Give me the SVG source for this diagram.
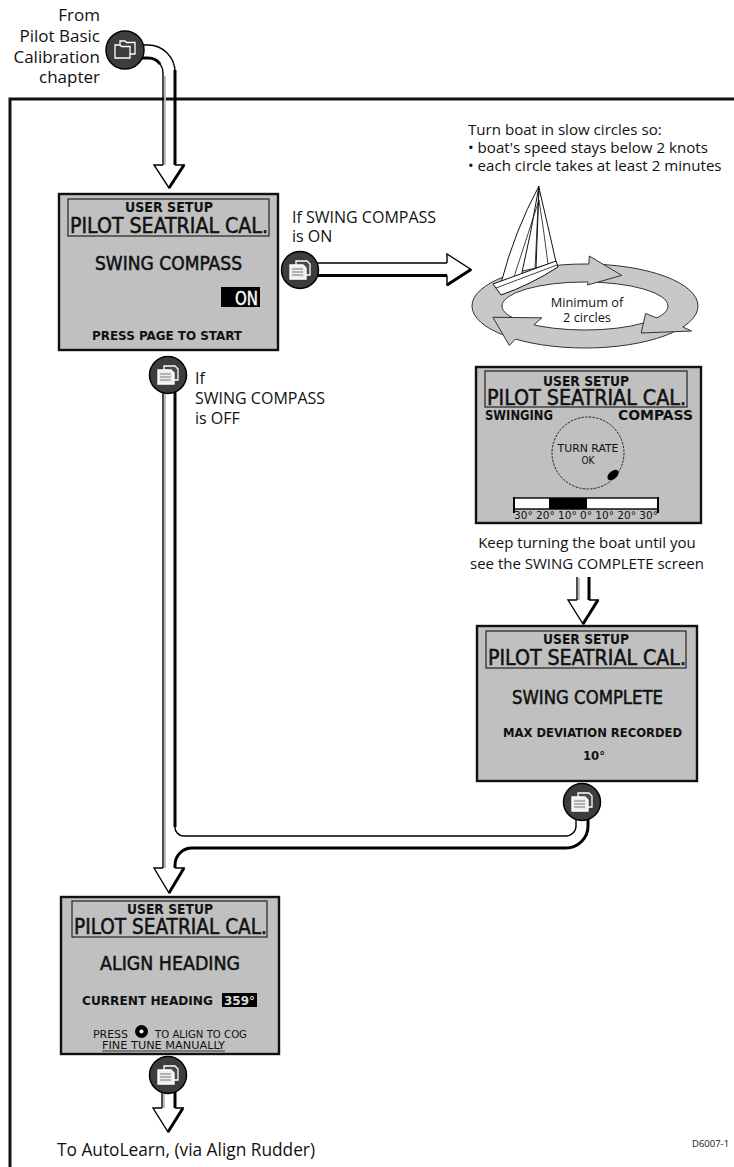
<svg xmlns="http://www.w3.org/2000/svg" width="734" height="1167" viewBox="0 0 734 1167">
  <defs>
    <style>
      .lbl{font-family:"Open Sans","Liberation Sans",sans-serif;fill:#111}
      .lcd{font-family:"DejaVu Sans Condensed","DejaVu Sans",sans-serif;fill:#111}
      .big{stroke:#111;stroke-width:0.5}
      .b{font-weight:bold}
      .scr{fill:#c0c0c0;stroke:#111;stroke-width:2.4}
      .hdr{fill:none;stroke:#222;stroke-width:1.2}
      .w{fill:none;stroke:#000;stroke-width:1.4}
      .wt{fill:none;stroke:#000;stroke-width:3}
      .shade{fill:none;stroke:#bdbdbd;stroke-width:2}
      .head{fill:#fff;stroke:#000;stroke-width:1.4;stroke-linejoin:miter}
      .btn{fill:#3d3d3d;stroke:#000;stroke-width:1.5}
      .ring{fill:#c8c8c8;stroke:#333;stroke-width:1}
      .sail{fill:#fff;stroke:#111;stroke-width:1}
    </style>
    <!-- round "page" key: two stacked pages -->
    <g id="pagekey">
      <circle class="btn" r="18.5"/>
      <path d="M-4,-9 H7 L10,-6 V5 H-4 Z" fill="#4a4a4a" stroke="#fff" stroke-width="1.3"/>
      <path d="M-10,-5 H3 L6,-2 V9 H-10 Z" fill="#eee" stroke="#fff" stroke-width="1.3"/>
      <path d="M-8,-1 H3 M-8,2 H3 M-8,5 H3" stroke="#777" stroke-width="1.2"/>
    </g>
    <!-- round key with two folder tabs -->
    <g id="folderkey">
      <circle class="btn" r="19"/>
      <path d="M-5,-9 H0 L1.5,-7.5 H10 V4 H-5 Z" fill="#3d3d3d" stroke="#fff" stroke-width="1.3"/>
      <path d="M-10,-5 H-5 L-3.5,-3.5 H5 V8 H-10 Z" fill="#3d3d3d" stroke="#fff" stroke-width="1.3"/>
    </g>
  </defs>

  <rect width="734" height="1167" fill="#fff"/>

  <!-- frame -->
  <path d="M734 99 H10 V1167" fill="none" stroke="#111" stroke-width="3"/>

  <!-- connectors -->
  <g id="connectors">
    <!-- entry from previous chapter -->
    <path class="shade" d="M165 76 V165"/>
    <path class="w" d="M141 45 H148 A27 27 0 0 1 175 72"/>
    <path class="wt" d="M175 70 V166"/>
    <path class="w" d="M141 58 H148 A15 15 0 0 1 163 73 V166"/>
    <path class="wt" d="M141 58 H148 Q156 58 160 64"/>
    <polyline class="head" points="163,165 154,165 169,188 184,165 175,165"/>
    <path class="wt" d="M184 165 L169 188"/>

    <!-- swing compass ON -->
    <path class="w" d="M316 263 H448"/>
    <path class="wt" d="M316 275.5 H448"/>
    <polyline class="head" points="447,263 447,254 471,269.5 447,285 447,275.5"/>
    <path class="wt" d="M471 269.5 L447 285"/>

    <!-- swinging to swing complete -->
    <path class="shade" d="M579 578 V600"/>
    <path class="w" d="M577 577 V601"/>
    <path class="wt" d="M589 577 V601"/>
    <polyline class="head" points="577,600 568,600 583,624 598,600 589,600"/>
    <path class="wt" d="M598 600 L583 624"/>

    <!-- swing compass OFF and return from swing complete -->
    <path class="shade" d="M165 392 V868"/>
    <path class="w" d="M163 391 V869"/>
    <path class="wt" d="M175 391 V827"/>
    <path class="w" d="M175 826 A9 9 0 0 0 184 836 H566 A10 10 0 0 0 576 826 V816"/>
    <path class="wt" d="M588 816 V826 A22 22 0 0 1 566 848 H192 A17 17 0 0 0 175 865 V869"/>
    <polyline class="head" points="163,868 154,868 169,893 184,868 175,868"/>
    <path class="wt" d="M184 868 L169 893"/>

    <!-- exit -->
    <path class="shade" d="M164 1092 V1108"/>
    <path class="w" d="M162 1090 V1109"/>
    <path class="wt" d="M175 1090 V1109"/>
    <polyline class="head" points="162,1108 153,1108 168,1132 183,1108 175,1108"/>
    <path class="wt" d="M183 1108 L168 1132"/>
  </g>

  <!-- entry label -->
  <g id="entry">
    <text class="lbl" x="100" y="21" text-anchor="end" font-size="17">From</text>
    <text class="lbl" x="100" y="42" text-anchor="end" font-size="17">Pilot Basic</text>
    <text class="lbl" x="100" y="63" text-anchor="end" font-size="17">Calibration</text>
    <text class="lbl" x="100" y="83" text-anchor="end" font-size="17">chapter</text>
    <use href="#folderkey" x="125" y="50"/>
  </g>

  <!-- screen: swing compass -->
  <g id="screen-swing-compass">
    <rect class="scr" x="59" y="194" width="219" height="156"/>
    <rect class="hdr" x="68" y="199" width="201" height="37"/>
    <text class="lcd b" x="169" y="212" font-size="13.5" text-anchor="middle" textLength="88" lengthAdjust="spacingAndGlyphs">USER SETUP</text>
    <text class="lcd big" x="70" y="233" font-size="21" textLength="198" lengthAdjust="spacingAndGlyphs">PILOT SEATRIAL CAL.</text>
    <text class="lcd big" x="95" y="270" font-size="19.5" textLength="147" lengthAdjust="spacingAndGlyphs">SWING COMPASS</text>
    <rect x="221" y="287" width="39" height="20" fill="#000"/>
    <text class="lcd" x="235" y="305" font-size="19.5" style="fill:#fff;stroke:#fff;stroke-width:0.4" textLength="23" lengthAdjust="spacingAndGlyphs">ON</text>
    <text class="lcd b" x="92" y="340" font-size="13" textLength="150" lengthAdjust="spacingAndGlyphs">PRESS PAGE TO START</text>
  </g>

  <!-- key: compass ON -->
  <g id="key-on">
    <text class="lbl" x="292" y="223" font-size="16">If SWING COMPASS</text>
    <text class="lbl" x="292" y="242" font-size="16">is ON</text>
    <use href="#pagekey" x="300" y="270"/>
  </g>

  <!-- key: compass OFF -->
  <g id="key-off">
    <use href="#pagekey" x="168" y="375"/>
    <text class="lbl" x="195" y="384" font-size="16">If</text>
    <text class="lbl" x="195" y="404" font-size="16">SWING COMPASS</text>
    <text class="lbl" x="195" y="424" font-size="16">is OFF</text>
  </g>

  <!-- instructions and turning boat -->
  <g id="turn-boat">
    <text class="lbl" x="468" y="135" font-size="15.1">Turn boat in slow circles so:</text>
    <text class="lbl" x="468" y="153" font-size="15.1">• boat's speed stays below 2 knots</text>
    <text class="lbl" x="468" y="171" font-size="15.1">• each circle takes at least 2 minutes</text>

    <path class="ring" fill-rule="evenodd" d="M472 306 A113 42 0 1 0 698 306 A113 42 0 1 0 472 306 Z M502 306 A83 24 0 1 0 668 306 A83 24 0 1 0 502 306 Z"/>
    <polyline class="ring" points="588.9,264 589.3,256 621.7,275.4 587.6,285 587.9,282"/>
    <polyline class="ring" points="682.9,327 691.5,331 641.2,333 645.6,313.5 656.9,318"/>
    <polyline class="ring" points="515.4,339.1 509.3,345.4 492.9,317.3 541.9,317.8 533.9,324.9"/>
    <text class="lbl" x="587" y="307" font-size="12.8" text-anchor="middle">Minimum of</text>
    <text class="lbl" x="587" y="322" font-size="12.8" text-anchor="middle">2 circles</text>

    <!-- yacht -->
    <path class="sail" d="M539 186 Q515 230 501 283 L521 277 Q531 234 539 186 Z"/>
    <path class="sail" d="M539 188 Q548 226 556 262 L536 268 Z"/>
    <path d="M539 186 L535 269 M539 200 Q526 240 513 280 M539 200 Q544 232 548 264" fill="none" stroke="#111" stroke-width="0.8"/>
    <path class="sail" d="M493 284 L556 261 L558 267 Q530 285 501 295 Z"/>
    <path d="M496 288 L557 265" stroke="#111" stroke-width="0.8"/>
  </g>

  <!-- screen: swinging compass -->
  <g id="screen-swinging">
    <rect class="scr" x="476" y="367" width="225" height="156"/>
    <rect class="hdr" x="485" y="371" width="202" height="36"/>
    <text class="lcd b" x="586" y="386" font-size="13.5" text-anchor="middle" textLength="86" lengthAdjust="spacingAndGlyphs">USER SETUP</text>
    <text class="lcd big" x="487" y="405" font-size="21" textLength="199" lengthAdjust="spacingAndGlyphs">PILOT SEATRIAL CAL.</text>
    <text class="lcd b" x="485" y="420" font-size="13.5" textLength="68" lengthAdjust="spacingAndGlyphs">SWINGING</text>
    <text class="lcd b" x="618" y="420" font-size="13.5" textLength="75" lengthAdjust="spacingAndGlyphs">COMPASS</text>
    <circle cx="588" cy="453" r="36" fill="none" stroke="#222" stroke-width="1" stroke-dasharray="2.5 1.2"/>
    <text class="lcd" x="588" y="452" font-size="10" text-anchor="middle" textLength="61" lengthAdjust="spacingAndGlyphs">TURN RATE</text>
    <text class="lcd" x="588" y="464" font-size="10" text-anchor="middle">OK</text>
    <ellipse cx="613" cy="475" rx="6.5" ry="4" transform="rotate(-40 613 475)" fill="#000"/>
    <rect x="514" y="498" width="144" height="11" fill="#fff" stroke="#000" stroke-width="1.4"/>
    <rect x="549" y="498" width="38" height="11" fill="#000"/>
    <path d="M514 497 V513 M658 497 V513" stroke="#000" stroke-width="2"/>
    <text class="lcd" x="514" y="519" font-size="10.5" textLength="144" lengthAdjust="spacingAndGlyphs">30° 20° 10°  0°  10° 20° 30°</text>
  </g>

  <text class="lbl" x="587" y="548" font-size="15" text-anchor="middle">Keep turning the boat until you</text>
  <text class="lbl" x="587" y="569" font-size="15" text-anchor="middle">see the SWING COMPLETE screen</text>

  <!-- screen: swing complete -->
  <g id="screen-swing-complete">
    <rect class="scr" x="477" y="626" width="220" height="155"/>
    <rect class="hdr" x="486" y="631" width="200" height="37"/>
    <text class="lcd b" x="586" y="644" font-size="13.5" text-anchor="middle" textLength="86" lengthAdjust="spacingAndGlyphs">USER SETUP</text>
    <text class="lcd big" x="488" y="665" font-size="21" textLength="198" lengthAdjust="spacingAndGlyphs">PILOT SEATRIAL CAL.</text>
    <text class="lcd big" x="512" y="704" font-size="19.5" textLength="151" lengthAdjust="spacingAndGlyphs">SWING COMPLETE</text>
    <text class="lcd b" x="503" y="737" font-size="13" textLength="179" lengthAdjust="spacingAndGlyphs">MAX DEVIATION RECORDED</text>
    <text class="lcd b" x="594" y="760" font-size="13" text-anchor="middle">10°</text>
  </g>
  <use id="key-complete" href="#pagekey" x="582" y="802"/>

  <!-- screen: align heading -->
  <g id="screen-align-heading">
    <rect class="scr" x="61" y="897" width="218" height="157"/>
    <rect class="hdr" x="72" y="901" width="195" height="36"/>
    <text class="lcd b" x="170" y="914" font-size="13.5" text-anchor="middle" textLength="86" lengthAdjust="spacingAndGlyphs">USER SETUP</text>
    <text class="lcd big" x="74" y="934" font-size="21" textLength="193" lengthAdjust="spacingAndGlyphs">PILOT SEATRIAL CAL.</text>
    <text class="lcd big" x="100" y="970" font-size="19.5" textLength="140" lengthAdjust="spacingAndGlyphs">ALIGN HEADING</text>
    <text class="lcd b" x="82" y="1005" font-size="13" textLength="131" lengthAdjust="spacingAndGlyphs">CURRENT HEADING</text>
    <rect x="222" y="993" width="35" height="14" fill="#000"/>
    <text class="lcd b" x="224" y="1005" font-size="13" style="fill:#ddd" textLength="31" lengthAdjust="spacingAndGlyphs">359°</text>
    <text class="lcd" x="93" y="1038" font-size="10" textLength="35" lengthAdjust="spacingAndGlyphs">PRESS</text>
    <circle cx="141.5" cy="1031.5" r="6.5" fill="#000"/>
    <circle cx="141.5" cy="1031.5" r="2" fill="#fff"/>
    <text class="lcd" x="155" y="1038" font-size="10" textLength="92" lengthAdjust="spacingAndGlyphs">TO ALIGN TO COG</text>
    <text class="lcd" x="102" y="1049" font-size="10" textLength="123" lengthAdjust="spacingAndGlyphs">FINE TUNE MANUALLY</text>
    <path d="M102 1051 H225" stroke="#111" stroke-width="0.8"/>
  </g>
  <use id="key-exit" href="#pagekey" x="168" y="1075"/>

  <text class="lbl" x="57" y="1156" font-size="17.3">To AutoLearn, (via Align Rudder)</text>
  <text class="lbl" x="692" y="1147" font-size="9.5">D6007-1</text>
</svg>
